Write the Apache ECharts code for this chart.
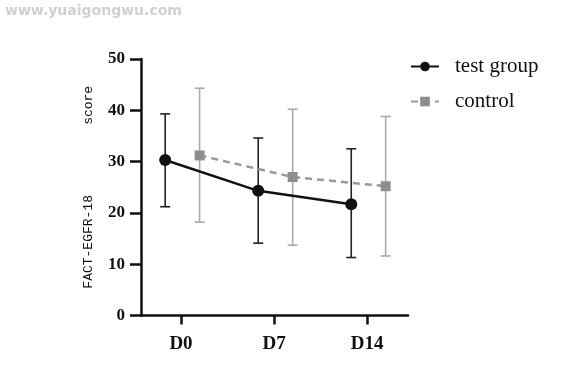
<!DOCTYPE html>
<html><head><meta charset="utf-8">
<script src="https://cdn.jsdelivr.net/npm/echarts@6/dist/echarts.min.js"></script>
<style>html,body{margin:0;padding:0;background:#fff}#c{width:580px;height:373px}</style>
</head><body><div id="c"></div>
<script>
const categories = ['D0', 'D7', 'D14'];
const testMean = [30.3, 24.3, 21.7];
const testLow = [21.2, 14.1, 11.3];
const testHigh = [39.3, 34.6, 32.5];
const ctrlMean = [31.2, 27.0, 25.2];
const ctrlLow = [18.2, 13.7, 11.6];
const ctrlHigh = [44.3, 40.2, 38.8];
const yTicks = [0, 10, 20, 30, 40, 50];

const testOff = -0.17, ctrlOff = 0.2;
const serif = '"Liberation Serif", "Times New Roman", serif';

function pts(mean, off) { return mean.map((v, i) => [i + off, v]); }
function bars(lo, hi, off) { return lo.map((v, i) => [i + off, v, hi[i]]); }
function errRender(color) {
  return function (params, api) {
    const x = api.value(0);
    const a = api.coord([x, api.value(1)]);
    const b = api.coord([x, api.value(2)]);
    const w = 5;
    const st = { stroke: color, lineWidth: 1.6 };
    return { type: 'group', children: [
      { type: 'line', shape: { x1: a[0], y1: a[1], x2: b[0], y2: b[1] }, style: st },
      { type: 'line', shape: { x1: a[0] - w, y1: a[1], x2: a[0] + w, y2: a[1] }, style: st },
      { type: 'line', shape: { x1: b[0] - w, y1: b[1], x2: b[0] + w, y2: b[1] }, style: st }
    ]};
  };
}

const chart = echarts.init(document.getElementById('c'), null, { renderer: 'canvas' });
chart.setOption({
  animation: false,
  backgroundColor: '#fff',
  graphic: [{ type: 'text', left: 5, top: 4, style: { text: 'www.yuaigongwu.com', fill: '#d0d0d0', font: 'bold 14px "DejaVu Sans", sans-serif' } }],
  grid: { left: 141, right: 172, top: 59, bottom: 57.5 },
  legend: {
    orient: 'vertical', left: 405, top: 51, itemGap: 14, itemWidth: 28, itemHeight: 12,
    textStyle: { fontFamily: serif, fontSize: 21, color: '#111', padding: [0, 0, 0, 11] },
    data: ['test group', 'control']
  },
  xAxis: {
    type: 'value', min: -0.43, max: 2.44,
    splitLine: { show: false },
    axisLine: { onZero: false, lineStyle: { color: '#111', width: 2.5 } },
    axisTick: { customValues: [0, 1, 2], length: 9, lineStyle: { color: '#111', width: 2.5 } },
    axisLabel: { customValues: [0, 1, 2], formatter: v => categories[Math.round(v)], fontFamily: serif, fontWeight: 'bold', fontSize: 19, color: '#111', margin: 19 }
  },
  yAxis: {
    type: 'value', min: 0, max: 50, interval: 10,
    name: 'FACT-EGFR-18         score', nameLocation: 'middle', nameGap: 46,
    nameTextStyle: { fontFamily: 'Liberation Mono', fontSize: 13, color: '#111' },
    splitLine: { show: false },
    axisLine: { show: true, onZero: false, lineStyle: { color: '#111', width: 2.5 } },
    axisTick: { show: true, length: 11, lineStyle: { color: '#111', width: 2.5 } },
    axisLabel: { fontFamily: serif, fontWeight: 'bold', fontSize: 17, color: '#111', margin: 16, customValues: yTicks }
  },
  series: [
    { type: 'custom', name: 'errTest', renderItem: errRender('#222'), data: bars(testLow, testHigh, testOff), z: 1, silent: true },
    { type: 'custom', name: 'errCtrl', renderItem: errRender('#aaa'), data: bars(ctrlLow, ctrlHigh, ctrlOff), z: 1, silent: true },
    { type: 'line', name: 'test group', data: pts(testMean, testOff), symbol: 'circle', symbolSize: 12,
      lineStyle: { color: '#111', width: 2.5 }, itemStyle: { color: '#111' }, z: 3 },
    { type: 'line', name: 'control', data: pts(ctrlMean, ctrlOff), symbol: 'rect', symbolSize: 10,
      lineStyle: { color: '#999', width: 2.5, type: [7, 5] }, itemStyle: { color: '#8e8e8e' }, z: 2 }
  ]
});
</script></body></html>
